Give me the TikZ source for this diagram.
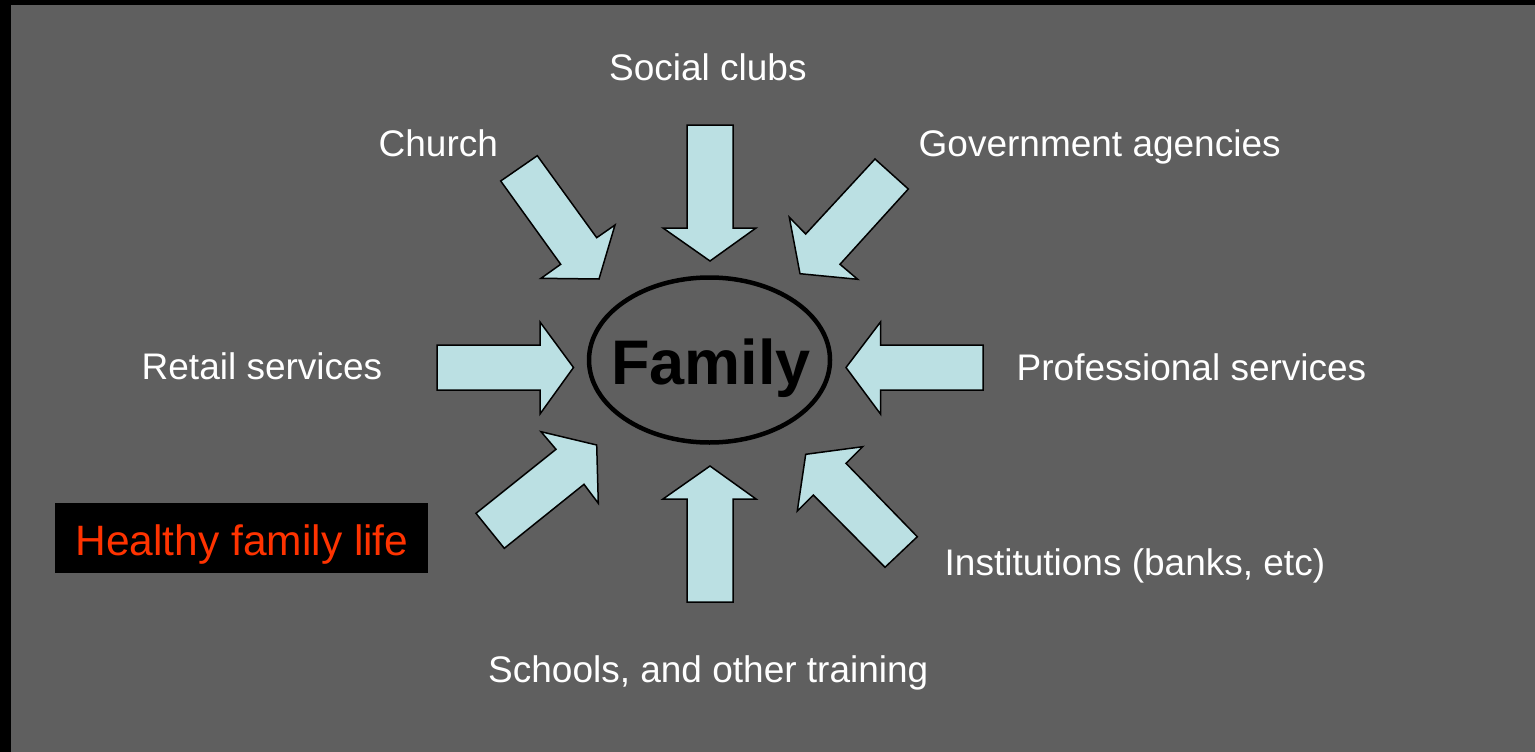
\documentclass[tikz,border=0pt]{standalone}
\usepackage{fontspec}
\setmainfont{Liberation Sans}
\usetikzlibrary{shapes.geometric}
\definecolor{bggray}{HTML}{5F5F5F}
\definecolor{arrowfill}{HTML}{BBE0E3}
\definecolor{healthred}{HTML}{FF3300}
\tikzset{
  blockarrow/.style={fill=arrowfill, draw=black, line width=1.5pt, line join=miter},
  lbl/.style={anchor=base west, inner sep=0pt, text=white, font=\fontsize{37}{44}\selectfont},
}
\begin{document}
\begin{tikzpicture}[x=1pt, y=-1pt]
\useasboundingbox (0,0) rectangle (1535,752);
\fill[black] (0,0) rectangle (1535,752);
\fill[bggray] (11,5.5) rectangle (1535,752);

% family ellipse
\node (family) [ellipse, draw=black, line width=4.5pt, minimum width=241pt, minimum height=165pt, inner sep=0pt] at (709.5,360) {};
\node (familytext) [anchor=base, inner sep=0pt, font=\fontsize{63}{70}\selectfont\bfseries, text=black] at (711,384) {Family};

% arrows
\draw[blockarrow] (687,125) -- (733,125) -- (733,228) -- (756,228) -- (710,261) -- (663,228) -- (687,228) -- cycle;
\draw[blockarrow] (687,602) -- (733,602) -- (733,499) -- (756,499) -- (710,466) -- (663,499) -- (687,499) -- cycle;
\draw[blockarrow] (437,345) -- (540,345) -- (540,322) -- (573.5,367.5) -- (540,414) -- (540,390) -- (437,390) -- cycle;
\draw[blockarrow] (983,345) -- (880.5,345) -- (880.5,322) -- (846,367.5) -- (880.5,414) -- (880.5,390) -- (983,390) -- cycle;
\draw[blockarrow] (500.7,181) -- (537.3,155.7) -- (596.7,237.7) -- (615,225) -- (599,279) -- (541,278.3) -- (560.7,264.3) -- cycle;
\draw[blockarrow] (875,159) -- (908.3,189) -- (840,264.3) -- (857.7,279.3) -- (800,273.7) -- (789.3,217.3) -- (805.7,234) -- cycle;
\draw[blockarrow] (476,513.3) -- (504.3,548.3) -- (584,484.3) -- (598.3,503.3) -- (596.7,445) -- (541,431.7) -- (556,449.3) -- cycle;
\draw[blockarrow] (917.3,536.7) -- (885,567.3) -- (813.3,495) -- (797.3,511) -- (805.7,454.3) -- (862.7,446.7) -- (846,463.3) -- cycle;

% labels
\node (social) [lbl] at (609,80.7) {Social clubs};
\node (church) [lbl] at (378.5,156.7) {Church};
\node (gov) [lbl] at (918.5,156.7) {Government agencies};
\node (retail) [lbl] at (141.5,379) {Retail services};
\node (prof) [lbl] at (1016.5,380.5) {Professional services};
\node (inst) [lbl] at (944.5,575) {Institutions (banks, etc)};
\node (schools) [lbl] at (488,682) {Schools, and other training};

% healthy family life box
\node (healthybox) [fill=black, inner sep=0pt, minimum width=373pt, minimum height=70pt] at (241.5,538) {};
\node (healthy) [anchor=base, inner sep=0pt, text=healthred, font=\fontsize{42.5}{50}\selectfont] at (242,555) {Healthy family life};
\end{tikzpicture}
\end{document}
